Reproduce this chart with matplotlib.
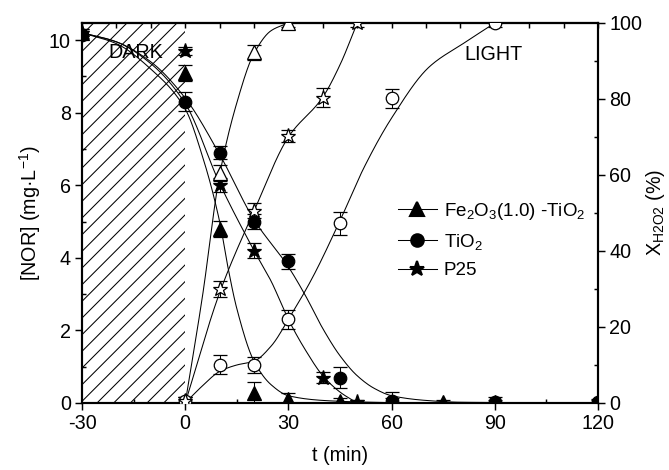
import numpy as np
import matplotlib
matplotlib.use("Agg")
import matplotlib.pyplot as plt
from matplotlib.lines import Line2D
from matplotlib.patches import Rectangle
from matplotlib.ticker import MultipleLocator

plt.rcParams['font.family'] = ['Liberation Sans', 'DejaVu Sans']
plt.rcParams['mathtext.fontset'] = 'custom'
plt.rcParams['mathtext.rm'] = 'Liberation Sans'
plt.rcParams['mathtext.it'] = 'Liberation Sans:italic'
plt.rcParams['hatch.linewidth'] = 0.5
plt.rcParams['axes.unicode_minus'] = False

# measured NOR concentration (mg/L), left axis
fe_t = [-30, 0, 10, 20, 30, 45, 60, 75, 90, 120]
fe_nor = [10.2, 9.1, 4.8, 0.28, 0.12, 0.05, 0.03, 0.02, 0.02, 0.02]
fe_err = [0.1, 0.22, 0.22, 0.3, 0.15, 0.1, 0.1, 0.05, 0.05, 0.05]

ti_t = [-30, 0, 10, 20, 30, 45, 60, 90, 120]
ti_nor = [10.15, 8.3, 6.9, 5.0, 3.9, 0.7, 0.05, 0.02, 0.02]
ti_err = [0.1, 0.26, 0.18, 0.2, 0.2, 0.3, 0.25, 0.15, 0.1]

p25_t = [-30, 0, 10, 20, 40, 50]
p25_nor = [10.2, 9.7, 6.0, 4.2, 0.7, 0.03]
p25_err = [0.1, 0.1, 0.2, 0.2, 0.15, 0.05]

# H2O2 conversion (%), right axis
hfe_t = [0, 10, 20, 30]
hfe_x = [0.5, 60.5, 92.3, 100]
hfe_err = [1, 2, 2, 1]

hti_t = [0, 10, 20, 30, 45, 60, 90]
hti_x = [0.5, 10, 10, 22, 47.3, 80.2, 100]
hti_err = [1, 2.5, 2, 2.5, 3, 2.5, 1]

hp25_t = [0, 10, 20, 30, 40, 50]
hp25_x = [0.5, 30, 50.6, 70.3, 80.3, 100]
hp25_err = [1, 2, 2, 1.5, 2.5, 1]

# fitted curves
fit_fe_t = [-30, -20, -10, 0, 5, 10, 12.5, 15, 20, 25, 30, 40, 50, 60, 80, 120]
fit_fe = [10.2, 9.9, 9.2, 8.1, 6.8, 5.0, 3.7, 2.6, 1.15, 0.5, 0.2, 0.07, 0.03, 0.01, 0.0, 0.0]
fit_ti_t = [-30, -20, -10, 0, 10, 20, 30, 35, 40, 45, 50, 55, 60, 70, 80, 120]
fit_ti = [10.2, 9.95, 9.4, 8.4, 6.85, 5.05, 3.75, 2.95, 2.05, 1.3, 0.75, 0.4, 0.2, 0.07, 0.02, 0.0]
fit_p25_t = [-30, -20, -10, 0, 10, 20, 25, 30, 35, 40, 45, 50]
fit_p25 = [10.2, 9.95, 9.35, 8.25, 6.05, 4.2, 3.35, 2.3, 1.45, 0.75, 0.3, 0.0]

fit_hfe_t = [0, 5, 10, 15, 20, 25, 30]
fit_hfe = [0, 28, 60, 79, 92, 98, 100]
fit_hti_t = [0, 5, 10, 15, 20, 25, 30, 37, 45, 52, 60, 71, 81, 90]
fit_hti = [0, 4.5, 8.3, 10, 11, 15, 22, 33, 48, 62, 75, 88.5, 94.7, 100]
fit_hp25_t = [0, 10, 20, 30, 40, 45, 50]
fit_hp25 = [0, 29, 50.5, 70, 80.5, 89, 100]


def pchip(x, y, xs):
    # monotone cubic through the knots
    x = np.asarray(x, float)
    y = np.asarray(y, float)
    h = np.diff(x)
    d = np.diff(y) / h
    m = np.zeros_like(y)
    m[0], m[-1] = d[0], d[-1]
    for k in range(1, len(x) - 1):
        if d[k - 1] * d[k] > 0:
            w1 = 2 * h[k] + h[k - 1]
            w2 = h[k] + 2 * h[k - 1]
            m[k] = (w1 + w2) / (w1 / d[k - 1] + w2 / d[k])
    i = np.clip(np.searchsorted(x, xs, side='right') - 1, 0, len(h) - 1)
    s = (xs - x[i]) / h[i]
    h00 = 2 * s**3 - 3 * s**2 + 1
    h10 = s**3 - 2 * s**2 + s
    h01 = -2 * s**3 + 3 * s**2
    h11 = s**3 - s**2
    return h00 * y[i] + h10 * h[i] * m[i] + h01 * y[i + 1] + h11 * h[i] * m[i + 1]


def curve(ax, t, v):
    xs = np.linspace(t[0], t[-1], 500)
    ax.plot(xs, pchip(t, v, xs), color='black', lw=0.5, zorder=2)


fig = plt.figure(figsize=(669 / 150, 470 / 150), dpi=150)
ax = fig.add_axes([0.1226, 0.1426, 0.7713, 0.8085])
ax2 = ax.twinx()

# dark period
ax.add_patch(Rectangle((-30, 0), 30, 1, transform=ax.get_xaxis_transform(),
                       facecolor='none', edgecolor='black', hatch='///',
                       linewidth=0, zorder=0))

for t, v in [(fit_fe_t, fit_fe), (fit_ti_t, fit_ti), (fit_p25_t, fit_p25)]:
    curve(ax, t, v)
for t, v in [(fit_hfe_t, fit_hfe), (fit_hti_t, fit_hti), (fit_hp25_t, fit_hp25)]:
    curve(ax2, t, v)

eb = dict(ecolor='black', elinewidth=0.5, capsize=3.2, capthick=0.5, mec='black', mew=0.6, zorder=3)
ax.errorbar(fe_t, fe_nor, yerr=fe_err, fmt='^', ms=6.5, mfc='black', **eb)
ax.errorbar(ti_t, ti_nor, yerr=ti_err, fmt='o', ms=6, mfc='black', **eb)
ax.errorbar(p25_t, p25_nor, yerr=p25_err, fmt='*', ms=7.5, mfc='black', **eb)
ax2.errorbar(hfe_t, hfe_x, yerr=hfe_err, fmt='^', ms=6.5, mfc='white', **eb)
ax2.errorbar(hti_t, hti_x, yerr=hti_err, fmt='o', ms=6, mfc='white', **eb)
ax2.errorbar(hp25_t, hp25_x, yerr=hp25_err, fmt='*', ms=7.5, mfc='white', **eb)

ax.set_xlim(-30, 120)
ax.set_ylim(0, 10.47)
ax2.set_ylim(0, 100)

ax.text(-14.5, 9.66, 'DARK', ha='center', va='center', fontsize=9.5)
ax.text(89.6, 9.59, 'LIGHT', ha='center', va='center', fontsize=9.5)

ax.xaxis.set_major_locator(MultipleLocator(30))
ax.xaxis.set_minor_locator(MultipleLocator(15))
ax.yaxis.set_major_locator(MultipleLocator(2))
ax.yaxis.set_minor_locator(MultipleLocator(1))
ax2.yaxis.set_major_locator(MultipleLocator(20))
ax2.yaxis.set_minor_locator(MultipleLocator(10))
for a in (ax, ax2):
    a.tick_params(which='major', direction='out', length=3.4, width=0.7, labelsize=9.5, pad=2)
    a.tick_params(which='minor', direction='in', length=2, width=0.7)
    for s in a.spines.values():
        s.set_linewidth(1.0)

top = ax.secondary_xaxis('top')
top.set_xticks(np.arange(-30, 121, 10))
top.tick_params(direction='in', length=2.2, width=0.7, labeltop=False)
top.spines['top'].set_linewidth(1.0)

ax.set_xlabel('t (min)', fontsize=9.5, labelpad=6)
ax.set_ylabel('[NOR] (mg·L$^{-1}$)', fontsize=9.5, labelpad=3)
ax2.set_ylabel(r'$\mathregular{X_{H2O2}}$ (%)', fontsize=9.5, labelpad=1)

handles = [
    Line2D([], [], color='black', lw=0.5, marker='^', ms=6.5, mfc='black', mec='black'),
    Line2D([], [], color='black', lw=0.5, marker='o', ms=6, mfc='black', mec='black'),
    Line2D([], [], color='black', lw=0.5, marker='*', ms=7.5, mfc='black', mec='black'),
]
labels = ['Fe$_2$O$_3$(1.0) -TiO$_2$', 'TiO$_2$', 'P25']
ax2.legend(handles, labels, loc='center left', bbox_to_anchor=(0.597, 0.429),
           frameon=False, fontsize=9, handlelength=2.1, handletextpad=0.35,
           labelspacing=0.55, borderaxespad=0)

fig.savefig('out.png', dpi=150)
